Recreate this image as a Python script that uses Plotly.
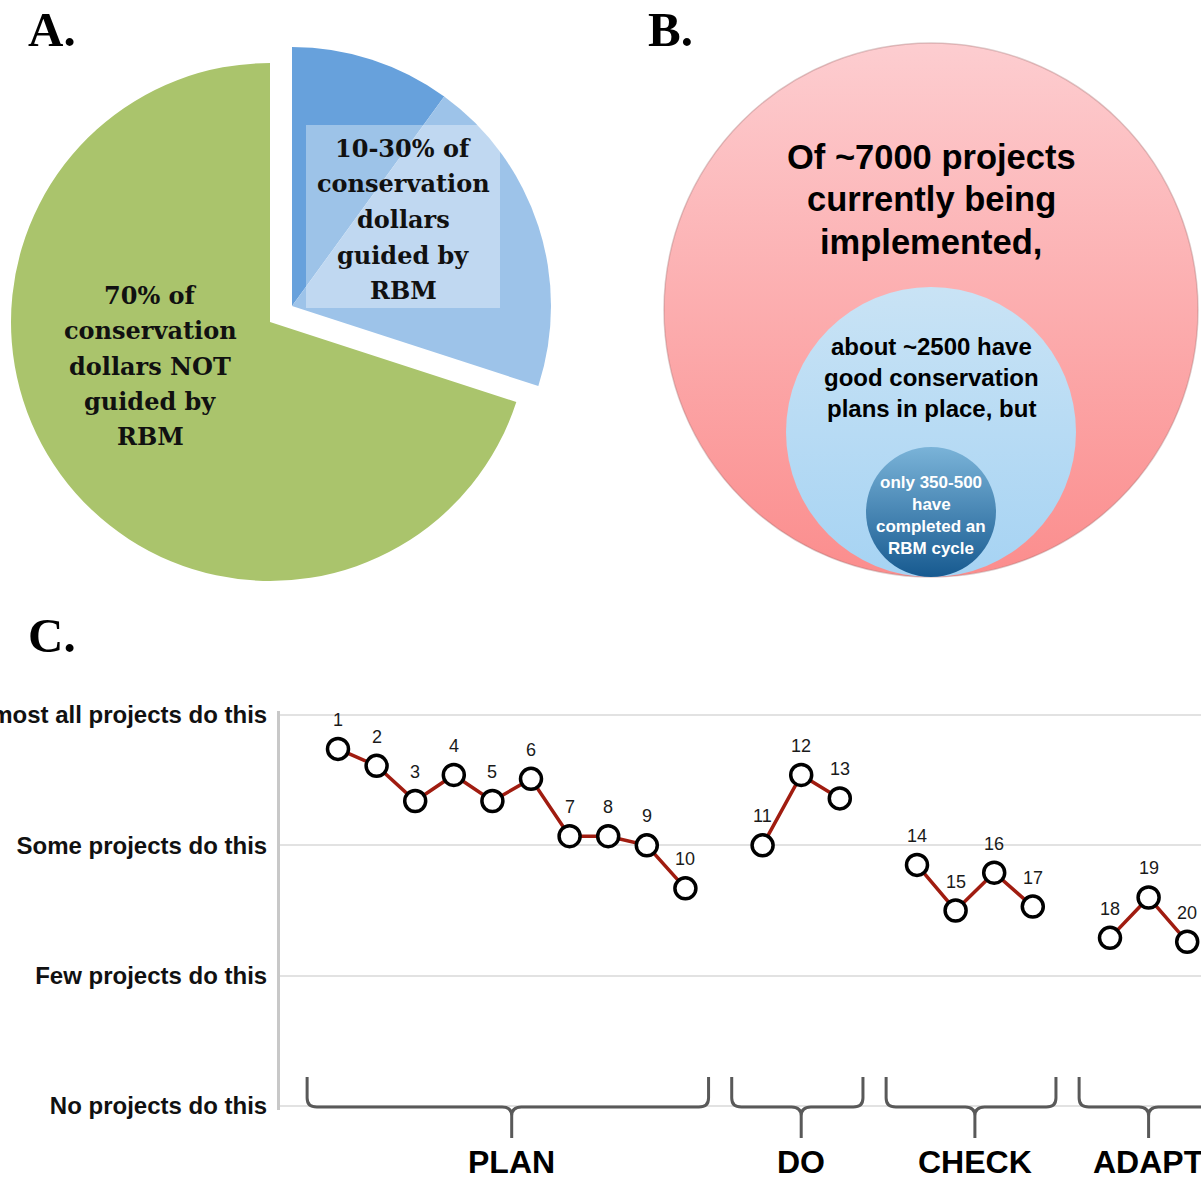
import math
import plotly.graph_objects as go

W, H = 1201, 1180

# ---------------- data ----------------
# Panel A: share of conservation dollars (clockwise from 12 o'clock)
pie_labels = ["guided by RBM (10%)", "guided by RBM (up to 30%)", "NOT guided by RBM"]
pie_values = [10, 20, 70]
pie_text_not = ["70% of", "conservation", "dollars NOT", "guided by", "RBM"]
pie_text_rbm = ["10-30% of", "conservation", "dollars", "guided by", "RBM"]

# Panel B: nested project counts
circle_text_all = ["Of ~7000 projects", "currently being", "implemented,"]
circle_text_plans = ["about ~2500 have", "good conservation", "plans in place, but"]
circle_text_rbm = ["only 350-500", "have", "completed an", "RBM cycle"]

# Panel C: steps of the RBM cycle
step_ids = list(range(1, 21))
step_scores = [2.74, 2.61, 2.34, 2.54, 2.34, 2.51, 2.07, 2.07, 2.00, 1.67,
               2.00, 2.54, 2.36,
               1.85, 1.50, 1.79, 1.53,
               1.29, 1.60, 1.26]
phase_names = ["PLAN", "DO", "CHECK", "ADAPT"]
phase_sizes = [10, 3, 4, 3]
level_vals = [0, 1, 2, 3]
level_labels = ["No projects do this", "Few projects do this",
                "Some projects do this", "Almost all projects do this"]

# ---------------- helpers ----------------
def px(x):
    return x / W

def py(y):
    return 1 - y / H

SANS = "Liberation Sans, Arial, sans-serif"
SERIF = "DejaVu Serif, serif"
SERIF2 = "Liberation Serif, Times New Roman, serif"

fig = go.Figure()
annotations = []
shapes = []

def text_block(lines, cx, cy, spacing, font):
    n = len(lines)
    for i, s in enumerate(lines):
        yy = cy + (i - (n - 1) / 2) * spacing
        annotations.append(dict(
            xref="paper", yref="paper", x=px(cx), y=py(yy), text=s,
            showarrow=False, xanchor="center", yanchor="middle", font=font,
        ))

# ---------------- Panel A: pie ----------------
R = 259
cx, cy = 270, 322
green = "#aac46c"
blue_light = "#9dc3e9"
blue_dark = "#67a1dc"
clear = "rgba(0,0,0,0)"

total = sum(pie_values)
rbm_total = pie_values[0] + pie_values[1]
fig.add_trace(go.Pie(
    values=[rbm_total, pie_values[2]], labels=["RBM", pie_labels[2]],
    marker=dict(colors=[clear, green], line=dict(width=0)),
    sort=False, direction="clockwise", rotation=0,
    textinfo="none", hoverinfo="skip", showlegend=False,
    domain=dict(x=[px(cx - R), px(cx + R)], y=[py(cy + R), py(cy - R)]),
))
# exploded RBM part: shifted along its bisector
pull = 0.105
mid_ang = math.radians(360 * (rbm_total / 2) / total)
bx = cx + pull * R * math.sin(mid_ang)
by = cy - pull * R * math.cos(mid_ang)
fig.add_trace(go.Pie(
    values=pie_values, labels=pie_labels,
    marker=dict(colors=[blue_dark, blue_light, clear], line=dict(width=0)),
    sort=False, direction="clockwise", rotation=0,
    textinfo="none", hoverinfo="skip", showlegend=False,
    domain=dict(x=[px(bx - R), px(bx + R)], y=[py(by + R), py(by - R)]),
))

serif_font = dict(family=SERIF, size=24, color="#111", weight="bold")
text_block(pie_text_not, 150, 366, 35.3, serif_font)
shapes.append(dict(type="rect", xref="paper", yref="paper",
                   x0=px(306), x1=px(500), y0=py(308), y1=py(125),
                   fillcolor="rgba(255,255,255,0.36)", line=dict(width=0),
                   layer="above"))
text_block(pie_text_rbm, 403, 219.5, 35.7, serif_font)

# ---------------- Panel B: nested circles ----------------
base_y = 577
circle_x = 931
diam = [534, 290, 130]
top_cols = ["#fdcdd0", "#c9e3f5", "#7ab3d8"]
bot_cols = ["#fb8d8d", "#a6d3f3", "#175a90"]
edge_cols = ["rgba(160,110,110,0.35)", "rgba(0,0,0,0)", "rgba(0,0,0,0)"]
for d, tc, bc, ec in zip(diam, top_cols, bot_cols, edge_cols):
    fig.add_trace(go.Scatter(
        x=[circle_x], y=[base_y - d / 2], mode="markers",
        marker=dict(size=d, color=tc, gradient=dict(type="vertical", color=bc),
                    line=dict(width=1.5, color=ec)),
        xaxis="x2", yaxis="y2", hoverinfo="skip", showlegend=False,
    ))

text_block(circle_text_all, 931, 199.5, 42.5,
           dict(family=SANS, size=34.5, color="#000", weight="bold"))
text_block(circle_text_plans, 931, 377.5, 30.5,
           dict(family=SANS, size=24, color="#000", weight="bold"))
text_block(circle_text_rbm, 931, 515.5, 21.7,
           dict(family=SANS, size=17, color="#fff", weight="bold"))

# ---------------- Panel C: line chart ----------------
xpos = []
groups = []
p = 0
k = 0
for name, n in zip(phase_names, phase_sizes):
    g = []
    for _ in range(n):
        p += 1
        xpos.append(p)
        g.append(k)
        k += 1
    groups.append(g)
    p += 1

for g in groups:
    fig.add_trace(go.Scatter(
        x=[xpos[i] for i in g], y=[step_scores[i] for i in g],
        mode="lines+markers",
        line=dict(color="#a01c10", width=3.5),
        marker=dict(size=21, color="white", line=dict(color="black", width=3.5)),
        hoverinfo="skip", showlegend=False, cliponaxis=False,
    ))

for i, sid in enumerate(step_ids):
    annotations.append(dict(
        x=xpos[i], y=step_scores[i], xref="x", yref="y", yshift=29,
        text=str(sid), showarrow=False,
        font=dict(family=SANS, size=18, color="#1a1a1a"),
    ))

# braces and phase names
y_top, y_base, y_tip = py(1077), py(1107), py(1138)
e = 9 / H
for name, g in zip(phase_names, groups):
    x0 = xpos[g[0]] - 0.8
    x1 = xpos[g[-1]] + 0.6
    xm = (xpos[g[0]] + xpos[g[-1]]) / 2
    d = 0.25
    path = (f"M {x0},{y_top} L {x0},{y_base + e} Q {x0},{y_base} {x0 + d},{y_base} "
            f"L {xm - d},{y_base} Q {xm},{y_base} {xm},{y_base - e} L {xm},{y_tip} "
            f"M {xm},{y_base - e} Q {xm},{y_base} {xm + d},{y_base} "
            f"L {x1 - d},{y_base} Q {x1},{y_base} {x1},{y_base + e} L {x1},{y_top}")
    shapes.append(dict(type="path", xref="x", yref="paper", path=path,
                       line=dict(color="#595959", width=3)))
    annotations.append(dict(
        x=xm, xref="x", y=py(1162), yref="paper", text=name, showarrow=False,
        font=dict(family=SANS, size=32, color="#000", weight="bold"),
        xanchor="center", yanchor="middle",
    ))

# panel letters
for letter, lx, ly in [("A.", 26, 29), ("B.", 646, 29), ("C.", 26, 635)]:
    annotations.append(dict(
        xref="paper", yref="paper", x=px(lx), y=py(ly), text=letter,
        showarrow=False, xanchor="left", yanchor="middle",
        font=dict(family=SERIF2, size=49, color="#000", weight="bold"),
    ))

unit = (1106 - 715) / 3.0
pad = 0.03
xl = 299.4
xs = 38.6
fig.update_layout(
    width=W, height=H, margin=dict(l=0, r=0, t=0, b=0, autoexpand=False),
    paper_bgcolor="white", plot_bgcolor="rgba(0,0,0,0)",
    showlegend=False,
    xaxis=dict(domain=[px(280), 1.0], range=[(280 - xl) / xs, (W - xl) / xs],
               showgrid=False, zeroline=False, showline=False, automargin=False,
               showticklabels=False, ticks="", fixedrange=True),
    yaxis=dict(domain=[py(1106 + pad * unit), py(715 - pad * unit)],
               range=[-pad, 3 + pad], automargin=False,
               tickvals=level_vals, ticktext=level_labels,
               tickfont=dict(family=SANS, size=24, color="#111", weight="bold"),
               showgrid=True, gridcolor="#e2e2e2", gridwidth=2,
               zeroline=False, showline=True, linecolor="#c8c8c8", linewidth=3,
               ticks="outside", ticklen=5, tickcolor="rgba(0,0,0,0)",
               fixedrange=True),
    xaxis2=dict(domain=[px(640), 1.0], range=[640, W], visible=False,
                anchor="y2", fixedrange=True, automargin=False),
    yaxis2=dict(domain=[py(600), 1.0], range=[600, 0], visible=False,
                anchor="x2", fixedrange=True, automargin=False),
    annotations=annotations,
    shapes=shapes,
)

fig.write_html("out.html",
               config={"displayModeBar": False, "staticPlot": True},
               post_script="document.body.style.margin='0';"
                           "document.body.style.overflow='hidden';")
